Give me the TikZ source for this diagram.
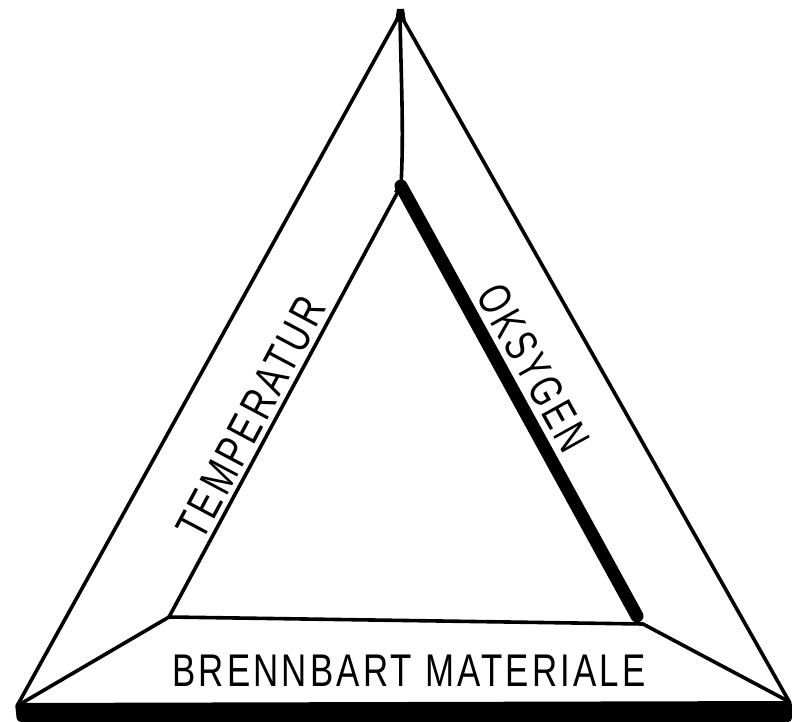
\documentclass[tikz,border=0pt]{standalone}
\usepackage{fontspec}
\newfontfamily\lblfont[FakeStretch=0.76,LetterSpace=7]{Liberation Sans}
\newfontfamily\lblfontn[FakeStretch=0.72,LetterSpace=7]{Liberation Sans}
\begin{document}
\begin{tikzpicture}[x=1bp,y=-1bp,
  thin line/.style={draw=black,line width=3.6bp,line join=round,line cap=round},
  heavy line/.style={draw=black,line width=13bp,line join=round,line cap=round},
  label/.style={inner sep=0pt,font=\lblfont\fontsize{46}{46}\selectfont}]
\useasboundingbox (0,0) rectangle (792,722);
% vertices
\coordinate (A) at (400,14);
\coordinate (L) at (17,706);
\coordinate (R) at (790,703);
\coordinate (iA) at (401,186);
\coordinate (iL) at (169,617);
\coordinate (iR) at (643,624);
\coordinate (sL) at (22,703);
\coordinate (sR) at (786,700);
% outer triangle
\draw[thin line] (L) -- (A) -- (R);
\fill (397,9) -- (404,9) -- (406,22) -- (395,22) -- cycle;
% spokes
\draw[thin line] (A) .. controls (401,80) and (404,130) .. (iA);
\draw[thin line] (iL) -- (sL);
\draw[thin line] (iR) -- (sR);
% inner triangle
\draw[thin line] (iA) -- (iL) -- (iR);
\draw[heavy line] (iA) -- (637,616);
\fill (394,192) -- (401,180) -- (409,192) -- cycle;
% bottom thick band
\fill[rounded corners=4bp] (15,703) -- (792,701) -- (792,722) -- (17,722) -- cycle;
% labels
\node[label] (temp) at (251,418) [rotate=62] {TEMPERATUR};
\node[label,font=\lblfontn\fontsize{46}{46}\selectfont] (oksy) at (534,368) [rotate=-61] {OKSYGEN};
\node[label] (brenn) at (409,671) {BRENNBART MATERIALE};
\end{tikzpicture}
\end{document}
